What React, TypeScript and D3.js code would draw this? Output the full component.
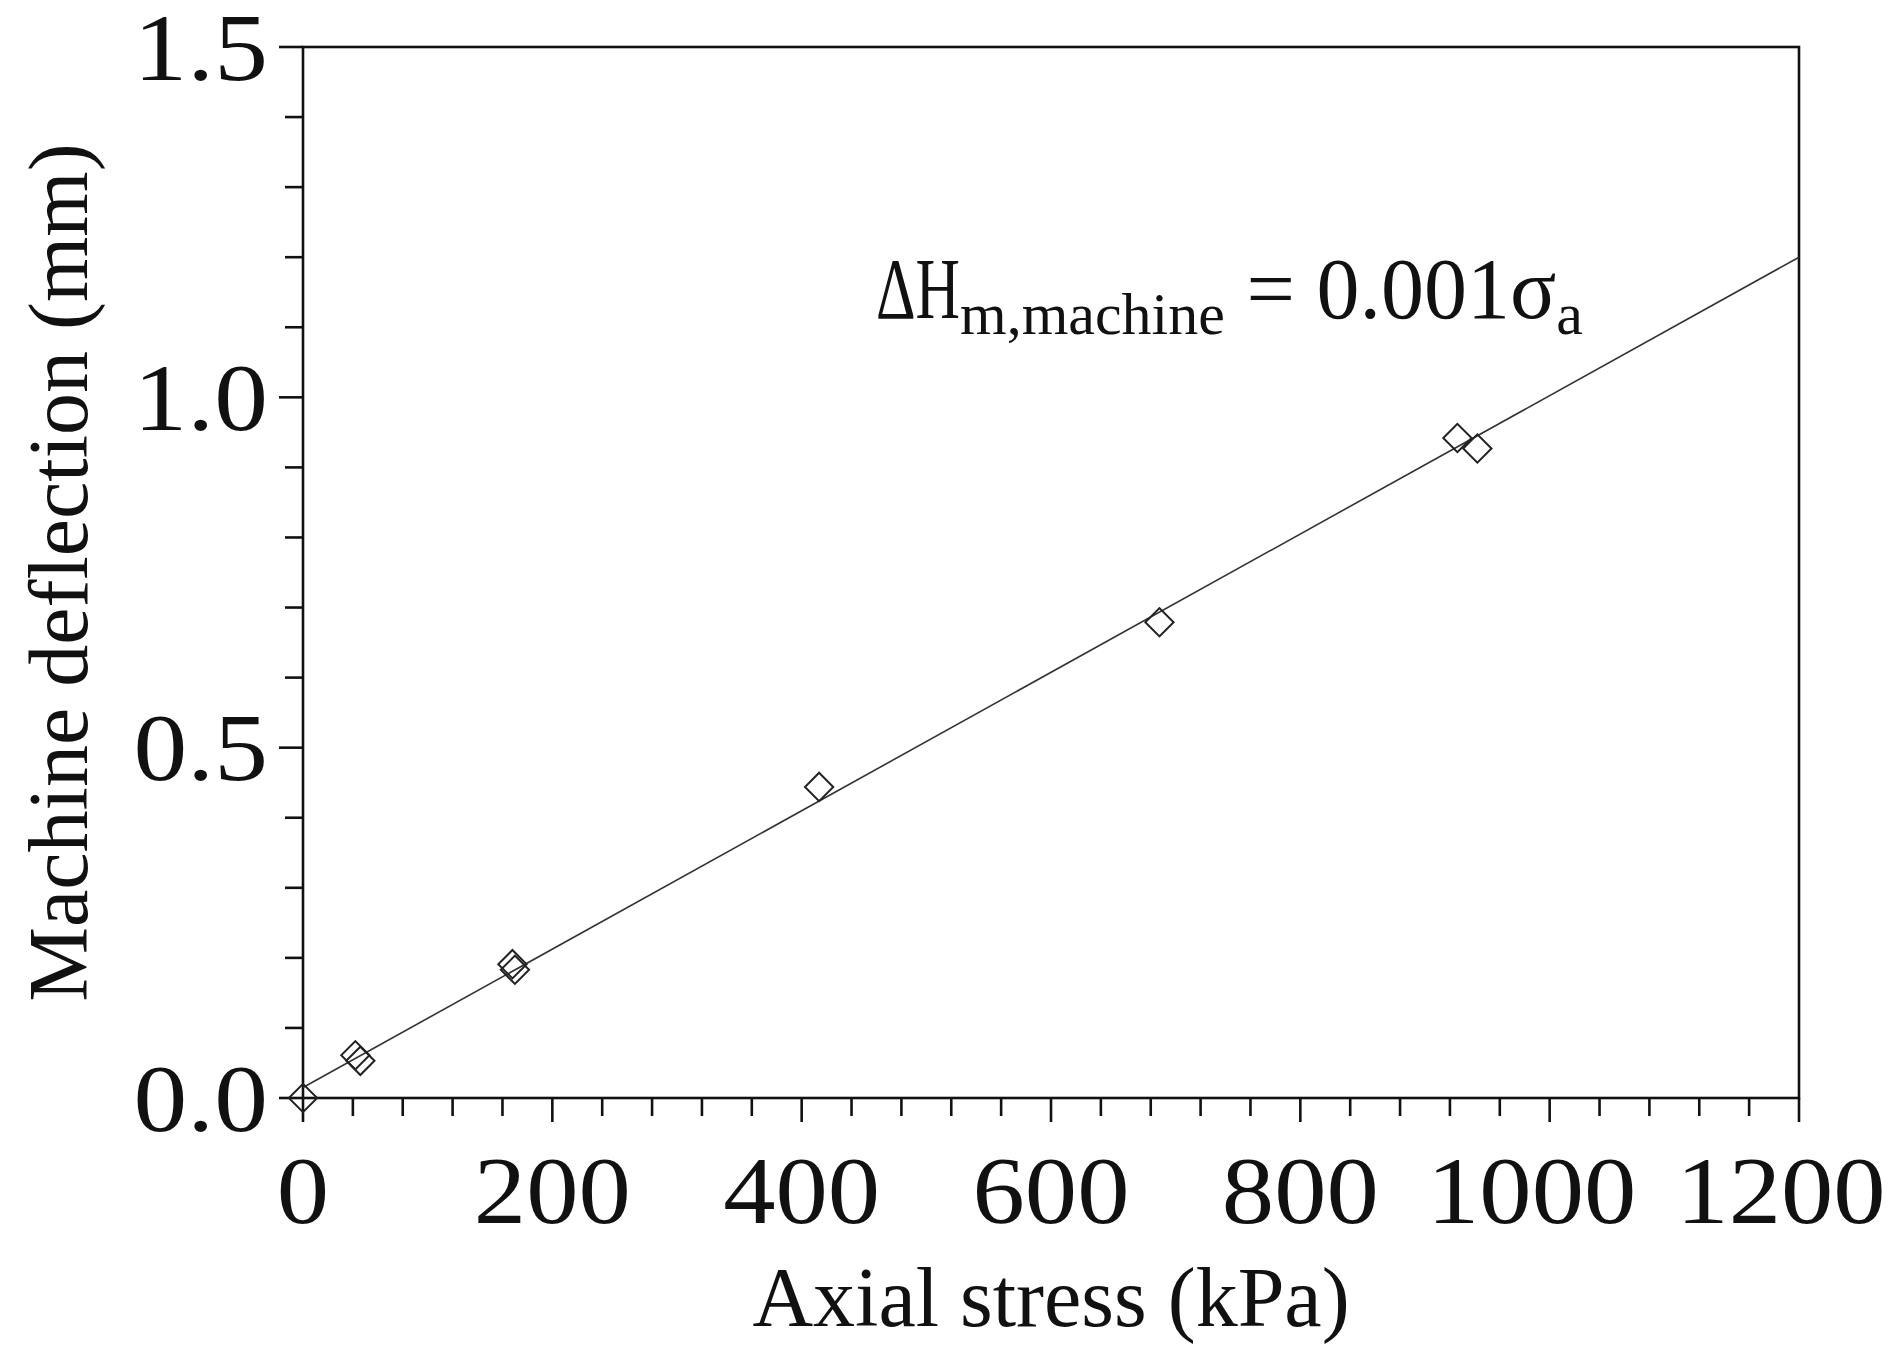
import React, { useEffect, useRef } from "react";
import * as d3 from "d3";

// Measured axial stress (kPa) and machine deflection (mm)
const stress = [0, 42, 46, 168, 170, 414, 687, 926, 942];
const deflection = [0, 0.061, 0.053, 0.191, 0.183, 0.444, 0.679, 0.942, 0.927];

// Fitted line end points
const fitStress = [0, 1200];
const fitDeflection = [0.015, 1.2];

const xTicks = [0, 200, 400, 600, 800, 1000, 1200];
const yTicks = [0, 0.5, 1.0, 1.5];

const W = 1902;
const H = 1355;
const FONT = "'Liberation Serif', 'Times New Roman', serif";

export default function App() {
  const ref = useRef<SVGSVGElement | null>(null);

  useEffect(() => {
    const svg = d3.select(ref.current);
    svg.selectAll("*").remove();

    const left = 303, right = 1799, top = 47, bottom = 1098;
    const x = d3.scaleLinear().domain([0, 1200]).range([left, right]);
    const y = d3.scaleLinear().domain([0, 1.5]).range([bottom, top]);

    const g = svg.append("g");

    // x ticks (outward, below)
    const xMinor = d3.range(0, 1200 + 1, 40);
    g.selectAll("line.xt")
      .data(xMinor)
      .join("line")
      .attr("x1", (d) => x(d))
      .attr("x2", (d) => x(d))
      .attr("y1", bottom)
      .attr("y2", (d) => bottom + (d % 200 === 0 ? 24 : 18))
      .attr("stroke", "#111")
      .attr("stroke-width", 2.6);

    // y ticks (outward, left)
    const yMinor = d3.range(0, 16).map((i) => i / 10);
    g.selectAll("line.yt")
      .data(yMinor)
      .join("line")
      .attr("y1", (d) => y(d))
      .attr("y2", (d) => y(d))
      .attr("x1", left)
      .attr("x2", (d, i) => left - (i % 5 === 0 ? 24 : 18))
      .attr("stroke", "#111")
      .attr("stroke-width", 2.6);

    // frame
    g.append("rect")
      .attr("x", left)
      .attr("y", top)
      .attr("width", right - left)
      .attr("height", bottom - top)
      .attr("fill", "none")
      .attr("stroke", "#111")
      .attr("stroke-width", 2.6);

    // tick labels (slightly wide-set serif)
    g.selectAll("text.xl")
      .data(xTicks)
      .join("text")
      .attr("transform", (d) => `translate(${x(d) - (d >= 1000 ? 18 : 0)},1223) scale(1.09,1)`)
      .attr("text-anchor", "middle")
      .attr("font-family", FONT)
      .attr("font-size", 96)
      .attr("fill", "#111")
      .text((d) => String(d));

    g.selectAll("text.yl")
      .data(yTicks)
      .join("text")
      .attr("transform", (d) => `translate(268,${y(d)}) scale(1.12,1)`)
      .attr("dy", "0.34em")
      .attr("text-anchor", "end")
      .attr("font-family", FONT)
      .attr("font-size", 96)
      .attr("fill", "#111")
      .text((d) => d3.format(".1f")(d));

    // axis titles
    g.append("text")
      .attr("x", (left + right) / 2)
      .attr("y", 1326)
      .attr("text-anchor", "middle")
      .attr("font-family", FONT)
      .attr("font-size", 84)
      .attr("fill", "#111")
      .text("Axial stress (kPa)");

    g.append("text")
      .attr("transform", `translate(87, ${(top + bottom) / 2}) rotate(-90)`)
      .attr("text-anchor", "middle")
      .attr("font-family", FONT)
      .attr("font-size", 84)
      .attr("fill", "#111")
      .text("Machine deflection (mm)");

    // fitted line
    const line = d3
      .line<number>()
      .x((d) => x(d))
      .y((_, i) => y(fitDeflection[i]));
    g.append("path")
      .attr("d", line(fitStress))
      .attr("fill", "none")
      .attr("stroke", "#333")
      .attr("stroke-width", 1.6);

    // data markers (open diamonds)
    const sym = d3.symbol().type(d3.symbolSquare).size(400);
    g.selectAll("path.pt")
      .data(stress.map((s, i) => [s, deflection[i]]))
      .join("path")
      .attr("d", sym() as string)
      .attr("transform", (d) => `translate(${x(d[0])},${y(d[1])}) rotate(45)`)
      .attr("fill", "none")
      .attr("stroke", "#222")
      .attr("stroke-width", 2);

    // equation
    const eq = g
      .append("text")
      .attr("x", 876)
      .attr("y", 318)
      .attr("font-family", FONT)
      .attr("font-size", 86)
      .attr("fill", "#111");
    eq.append("tspan")
      .attr("textLength", 84)
      .attr("lengthAdjust", "spacingAndGlyphs")
      .text("ΔH");
    eq.append("tspan").attr("font-size", 60).attr("dy", 16).text("m,machine");
    eq.append("tspan").attr("dy", -16).text(" = 0.001σ");
    eq.append("tspan").attr("font-size", 60).attr("dy", 16).text("a");
  }, []);

  return (
    <svg
      ref={ref}
      width={W}
      height={H}
      style={{ position: "absolute", left: 0, top: 0, background: "#fff" }}
    />
  );
}
